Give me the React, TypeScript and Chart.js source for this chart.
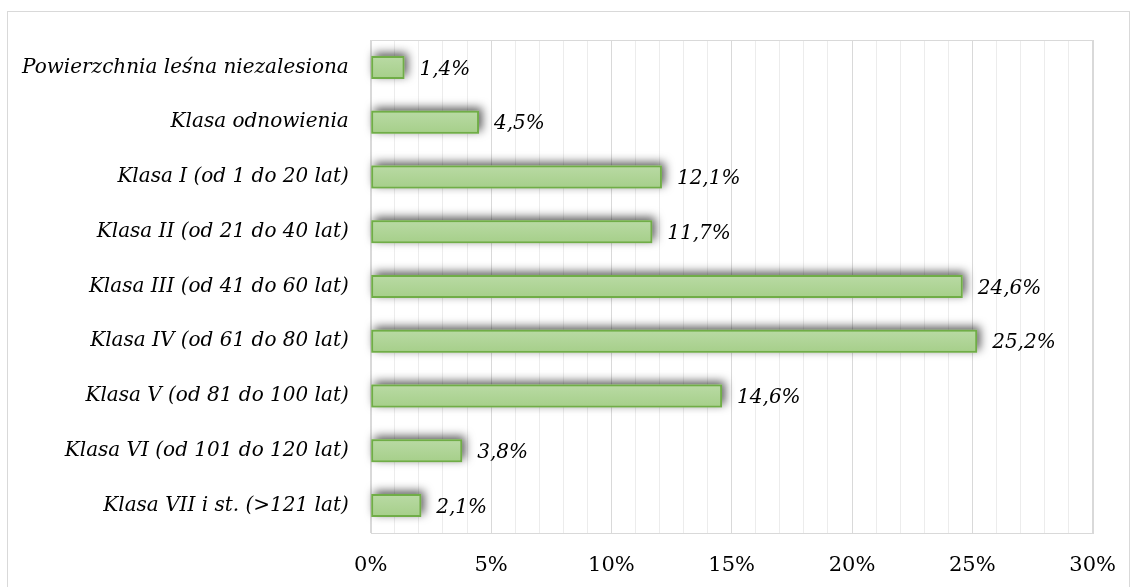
import React, { useEffect, useRef } from "react";
import { Chart, registerables } from "chart.js";

Chart.register(...registerables);

const categories = [
  "Powierzchnia leśna niezalesiona",
  "Klasa odnowienia",
  "Klasa I (od 1 do 20 lat)",
  "Klasa II (od 21 do 40 lat)",
  "Klasa III (od 41 do 60 lat)",
  "Klasa IV (od 61 do 80 lat)",
  "Klasa V (od 81 do 100 lat)",
  "Klasa VI (od 101 do 120 lat)",
  "Klasa VII i st. (>121 lat)",
];
const values = [1.4, 4.5, 12.1, 11.7, 24.6, 25.2, 14.6, 3.8, 2.1];
const valueLabels = ["1,4%", "4,5%", "12,1%", "11,7%", "24,6%", "25,2%", "14,6%", "3,8%", "2,1%"];

const FONT = "'DejaVu Serif', serif";

export default function App() {
  const ref = useRef<HTMLCanvasElement | null>(null);
  useEffect(() => {
    const canvas = ref.current!;
    const frame = {
      id: "frame",
      beforeDatasetsDraw(chart: any) {
        const { ctx, chartArea } = chart;
        ctx.save();
        ctx.strokeStyle = "#d9d9d9";
        ctx.lineWidth = 1;
        ctx.strokeRect(
          Math.round(chartArea.left) + 0.5,
          Math.round(chartArea.top) + 0.5,
          Math.round(chartArea.right - chartArea.left),
          Math.round(chartArea.bottom - chartArea.top)
        );
        // bar shadows
        const meta = chart.getDatasetMeta(0);
        ctx.shadowColor = "rgba(0,0,0,0.65)";
        ctx.shadowBlur = 10;
        ctx.shadowOffsetX = 3;
        ctx.shadowOffsetY = -3;
        ctx.fillStyle = "#a9d18e";
        meta.data.forEach((bar: any) => {
          const h = bar.height;
          ctx.fillRect(bar.base, bar.y - h / 2, bar.x - bar.base, h);
        });
        ctx.restore();
      },
    };
    const labels = {
      id: "valueLabels",
      afterDatasetsDraw(chart: any) {
        const { ctx } = chart;
        const meta = chart.getDatasetMeta(0);
        ctx.save();
        ctx.font = `italic 20px ${FONT}`;
        ctx.fillStyle = "#000";
        ctx.textAlign = "left";
        ctx.textBaseline = "middle";
        meta.data.forEach((bar: any, i: number) => {
          ctx.fillText(valueLabels[i], bar.x + 15, bar.y + 2);
        });
        ctx.restore();
      },
    };
    const chart = new Chart(canvas, {
      type: "bar",
      data: {
        labels: categories,
        datasets: [
          {
            data: values,
            backgroundColor: (c: any) => {
              const ys = c.chart.scales && c.chart.scales.y;
              if (!ys || c.dataIndex === undefined) return "#add38f";
              const cy = ys.getPixelForValue(c.dataIndex);
              if (!isFinite(cy)) return "#add38f";
              const g = c.chart.ctx.createLinearGradient(0, cy - 11, 0, cy + 11);
              g.addColorStop(0, "#b9daa4");
              g.addColorStop(1, "#a6cf8a");
              return g;
            },
            borderColor: "#70ad47",
            borderWidth: 2,
            borderSkipped: false,
            barPercentage: 0.42,
            categoryPercentage: 1,
          },
        ],
      },
      options: {
        indexAxis: "y",
        animation: false,
        responsive: false,
        maintainAspectRatio: false,
        layout: { padding: { top: 40, right: 34, bottom: 6, left: 0 } },
        plugins: { legend: { display: false }, tooltip: { enabled: false } },
        scales: {
          x: {
            min: 0,
            max: 30,
            ticks: {
              stepSize: 1,
              autoSkip: false,
              maxRotation: 0,
              padding: 20,
              color: "#000",
              font: { family: FONT, size: 21 },
              callback: (v: any) => (Number(v) % 5 === 0 ? `${v}%` : ""),
            },
            grid: {
              color: (c: any) => (c.tick && c.tick.value % 5 === 0 ? "#d9d9d9" : "#ececec"),
              lineWidth: 1,
              drawTicks: false,
            },
            border: { display: false },
          },
          y: {
            ticks: {
              color: "#000",
              padding: 22,
              font: { family: FONT, size: 20, style: "italic" },
            },
            grid: { display: false, drawTicks: false },
            border: { display: false },
          },
        },
      },
      plugins: [frame, labels],
    });
    return () => chart.destroy();
  }, []);
  return (
    <div style={{ position: "fixed", left: 0, top: 0, width: 1133, height: 587, background: "#fff", overflow: "hidden" }}>
      <div
        style={{
          position: "absolute",
          left: 7,
          top: 11,
          width: 1123,
          height: 580,
          border: "1px solid #d9d9d9",
          boxSizing: "border-box",
        }}
      />
      <canvas ref={ref} width={1136} height={604} style={{ position: "absolute", left: 0, top: 0 }} />
    </div>
  );
}
